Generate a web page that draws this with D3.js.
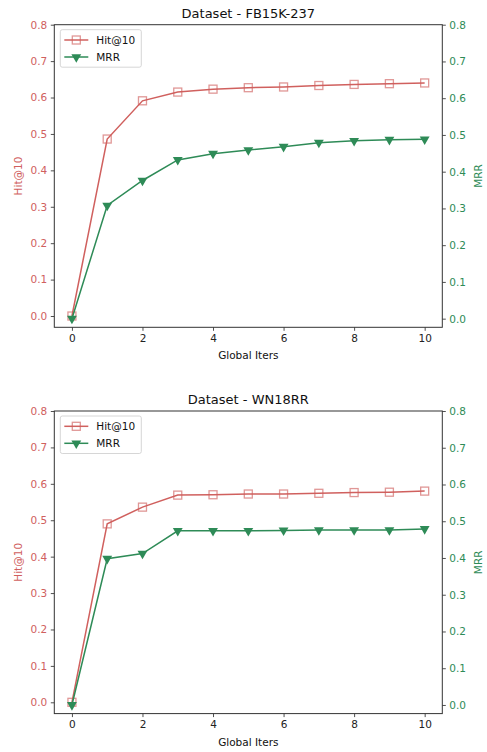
<!DOCTYPE html>
<html>
<head>
<meta charset="utf-8">
<script src="https://cdn.jsdelivr.net/npm/d3@7"></script>
<style>
  body { margin: 0; background: #fff; }
  svg { display: block; font-family: 'DejaVu Sans', sans-serif; }
</style>
</head>
<body>
<svg id="chart" width="487" height="752"></svg>
<script>
// x positions (global iterations)
const iters = [0, 1, 2, 3, 4, 5, 6, 7, 8, 9, 10];
const yTicks = [0.0, 0.1, 0.2, 0.3, 0.4, 0.5, 0.6, 0.7, 0.8];
const xTicks = [0, 2, 4, 6, 8, 10];

// FB15K-237
const fbHit = [0.0, 0.486, 0.591, 0.615, 0.623, 0.627, 0.629, 0.633, 0.636, 0.638, 0.640];
const fbMrr = [0.0, 0.308, 0.376, 0.432, 0.449, 0.459, 0.468, 0.479, 0.484, 0.487, 0.488];

// WN18RR
const wnHit = [0.0, 0.490, 0.536, 0.569, 0.570, 0.572, 0.572, 0.574, 0.576, 0.577, 0.580];
const wnMrr = [0.0, 0.398, 0.412, 0.474, 0.474, 0.474, 0.475, 0.476, 0.476, 0.476, 0.479];

const titles = ["Dataset - FB15K-237", "Dataset - WN18RR"];

const RED = "#d0605e";
const GREEN = "#2e8b57";

const svg = d3.select("#chart");

function drawPanel(top, title, hit, mrr) {
  const left = 54.3, right = 442.3, h = 302.6;
  const bottom = top + h;

  const x = d3.scaleLinear().domain([-0.5, 10.5]).range([left, right]);
  const yL = d3.scaleLinear().domain([-0.031, 0.8]).range([bottom, top]);
  const yR = d3.scaleLinear().domain([-0.0235, 0.8]).range([bottom, top]);

  const g = svg.append("g");

  // axes
  const xAx = g.append("g").attr("transform", `translate(0,${bottom})`)
    .call(d3.axisBottom(x).tickValues(xTicks).tickFormat(d3.format("d")).tickSize(3.5).tickPadding(3.5));
  const lAx = g.append("g").attr("transform", `translate(${left},0)`)
    .call(d3.axisLeft(yL).tickValues(yTicks).tickFormat(d3.format(".1f")).tickSize(3.5).tickPadding(3.5));
  const rAx = g.append("g").attr("transform", `translate(${right},0)`)
    .call(d3.axisRight(yR).tickValues(yTicks).tickFormat(d3.format(".1f")).tickSize(3.5).tickPadding(3.5));

  [xAx, lAx, rAx].forEach(a => {
    a.select(".domain").remove();
    a.selectAll("line").attr("stroke", "#222").attr("stroke-width", 0.8);
    a.selectAll("text").attr("font-size", 10.5).attr("font-family", "'DejaVu Sans', sans-serif");
  });
  xAx.selectAll("text").attr("fill", "#222");
  lAx.selectAll("text").attr("fill", RED);
  rAx.selectAll("text").attr("fill", GREEN);

  // spines
  g.append("rect").attr("x", left).attr("y", top).attr("width", right - left).attr("height", h)
    .attr("fill", "none").attr("stroke", "#333").attr("stroke-width", 1);

  // labels
  g.append("text").attr("x", (left + right) / 2).attr("y", top - 7)
    .attr("text-anchor", "middle").attr("font-size", 13).attr("fill", "#111").text(title);
  g.append("text").attr("x", (left + right) / 2).attr("y", bottom + 32)
    .attr("text-anchor", "middle").attr("font-size", 10.5).attr("fill", "#111").text("Global Iters");
  g.append("text").attr("transform", `translate(22,${(top + bottom) / 2}) rotate(-90)`)
    .attr("text-anchor", "middle").attr("font-size", 10.5).attr("fill", RED).text("Hit@10");
  g.append("text").attr("transform", `translate(482,${(top + bottom) / 2}) rotate(-90)`)
    .attr("text-anchor", "middle").attr("font-size", 10.5).attr("fill", GREEN).text("MRR");

  // Hit@10 line
  const lineL = d3.line().x((d, i) => x(iters[i])).y(d => yL(d));
  g.append("path").datum(hit).attr("d", lineL).attr("fill", "none")
    .attr("stroke", RED).attr("stroke-width", 1.5);
  g.selectAll(".sq").data(hit).enter().append("rect")
    .attr("x", (d, i) => x(iters[i]) - 4).attr("y", d => yL(d) - 4)
    .attr("width", 8).attr("height", 8)
    .attr("fill", "none").attr("stroke", RED).attr("stroke-opacity", 0.65).attr("stroke-width", 1.3);

  // MRR line
  const lineR = d3.line().x((d, i) => x(iters[i])).y(d => yR(d));
  g.append("path").datum(mrr).attr("d", lineR).attr("fill", "none")
    .attr("stroke", GREEN).attr("stroke-width", 1.5);
  const tri = d3.symbol().type(d3.symbolTriangle).size(42);
  g.selectAll(".tri").data(mrr).enter().append("path")
    .attr("d", tri)
    .attr("transform", (d, i) => `translate(${x(iters[i])},${yR(d)}) rotate(180)`)
    .attr("fill", GREEN);

  // legend
  const lg = g.append("g").attr("transform", `translate(${left + 6},${top + 5})`);
  lg.append("rect").attr("width", 81).attr("height", 37.5).attr("rx", 2)
    .attr("fill", "#fff").attr("fill-opacity", 0.8).attr("stroke", "#ccc").attr("stroke-width", 0.8);
  const rows = [
    { name: "Hit@10", color: RED, mark: "sq" },
    { name: "MRR", color: GREEN, mark: "tri" }
  ];
  rows.forEach((r, i) => {
    const cy = 10.3 + i * 17;
    lg.append("line").attr("x1", 4).attr("x2", 28).attr("y1", cy).attr("y2", cy)
      .attr("stroke", r.color).attr("stroke-width", 1.5);
    if (r.mark === "sq") {
      lg.append("rect").attr("x", 12).attr("y", cy - 4).attr("width", 8).attr("height", 8)
        .attr("fill", "none").attr("stroke", r.color).attr("stroke-opacity", 0.65).attr("stroke-width", 1.3);
    } else {
      lg.append("path").attr("d", tri).attr("transform", `translate(16,${cy}) rotate(180)`).attr("fill", r.color);
    }
    lg.append("text").attr("x", 36).attr("y", cy).attr("dy", "0.35em")
      .attr("font-size", 10.5).attr("fill", "#111").text(r.name);
  });
}

drawPanel(24.7, titles[0], fbHit, fbMrr);
drawPanel(411, titles[1], wnHit, wnMrr);
</script>
</body>
</html>
